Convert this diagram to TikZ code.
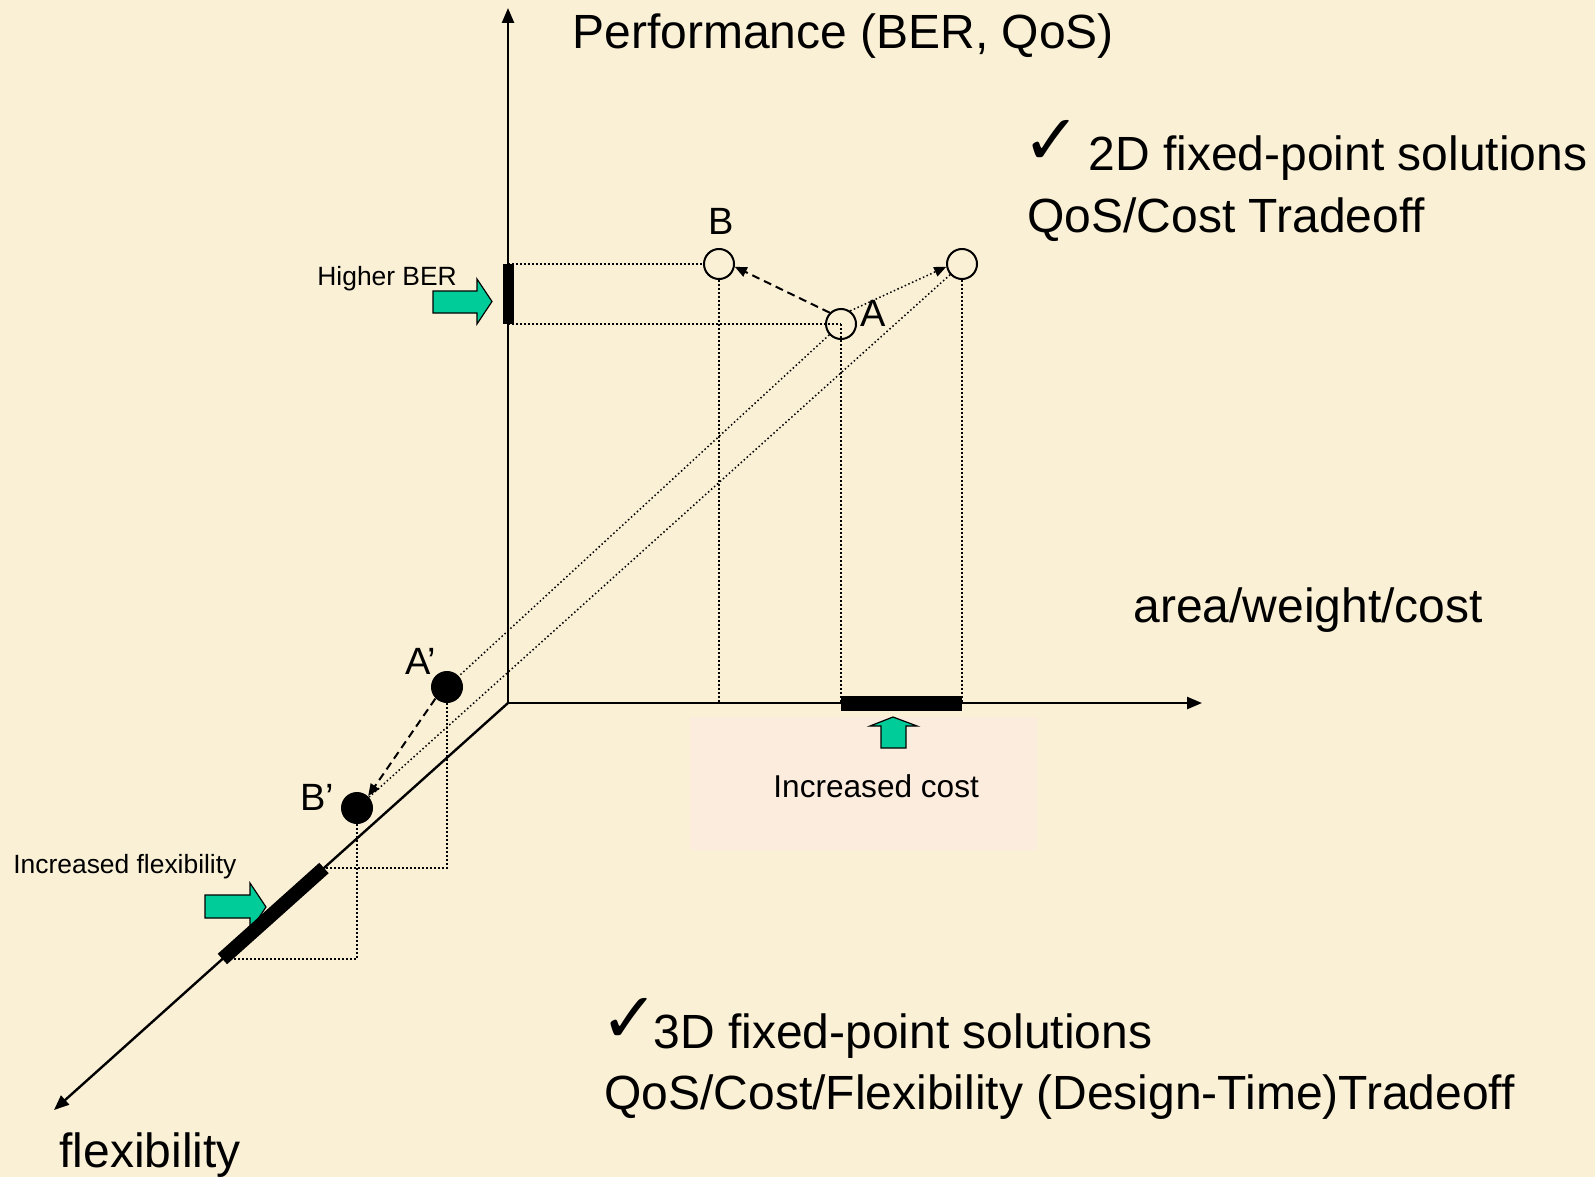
\documentclass[tikz,border=0pt]{standalone}
\usepackage{fontspec}
\setmainfont{Liberation Sans}
\newfontfamily\checkfont{DejaVu Sans}
\usetikzlibrary{arrows.meta}
\definecolor{parchment}{RGB}{250,240,213}
\definecolor{boxtint}{RGB}{252,236,221}
\definecolor{markgreen}{RGB}{0,204,153}

\begin{document}
\begin{tikzpicture}[x=0.5pt,y=-0.5pt,
  axisline/.style={line width=1.2pt,-{Triangle[length=7.5pt,width=6pt]}},
  guide/.style={line width=0.75pt,dash pattern=on 0.75pt off 1.25pt},
  move/.style={line width=1pt,dash pattern=on 4pt off 2.5pt,-{Triangle[length=6pt,width=5pt]}},
  shiftarrow/.style={guide,-{Triangle[length=6pt,width=5pt]}},
  open dot/.style={circle,draw,line width=1pt,minimum size=15pt,inner sep=0pt},
  solid dot/.style={circle,fill=black,minimum size=16pt,inner sep=0pt},
  greenarrow/.style={fill=markgreen,draw=black,line width=0.6pt,line join=miter},
  big/.style={font=\fontsize{24}{28}\selectfont,inner sep=0pt,anchor=base west},
  pointlabel/.style={font=\fontsize{19}{22}\selectfont,inner sep=0pt,anchor=base west},
  small/.style={font=\fontsize{13.2}{16}\selectfont,inner sep=0pt,anchor=base west},
  tick/.style={font=\checkfont\fontsize{35}{40}\selectfont,inner sep=0pt}]

% page background
\fill[parchment] (0,0) rectangle (1595,1177);
\useasboundingbox (0,0) rectangle (1595,1177);

% tinted panel behind the cost annotation
\fill[boxtint] (690,717) rectangle (1037,850);

% axes origin and ends
\coordinate (O) at (508,703);
\coordinate (ytip) at (508,8);
\coordinate (xtip) at (1202,703);
\coordinate (ztip) at (54,1110);
\coordinate (barTop) at (508,264);
\coordinate (barBot) at (508,324);
\coordinate (flexTop) at (324,868);
\coordinate (flexBot) at (222.4,959);

% design points
\node[open dot] (B) at (719,264) {};
\node[open dot] (C) at (962,264) {};
\node[open dot] (A) at (841,324) {};
\node[solid dot] (Ap) at (447,687) {};
\node[solid dot] (Bp) at (357,808) {};

% projection guides
\draw[guide] (barTop) -- (B.west);
\draw[guide] (barBot) -- (A.center);
\draw[guide] (B.south) -- (B.south |- O);
\draw[guide] (A.center) -- (A.center |- O);
\draw[guide] (C.south) -- (C.south |- O);
\draw[guide] (A) -- (Ap);
\draw[guide] (C) -- (Bp);
\draw[guide] (Ap.south) -- (Ap.south |- flexTop) -- (flexTop);
\draw[guide] (Bp.south) -- (Bp.south |- flexBot) -- (flexBot);

% axes
\draw[axisline] (O) -- (ytip);
\draw[axisline] (O) -- (xtip);
\draw[axisline] (O) -- (ztip);

% green pointer arrows
\filldraw[greenarrow] (433,291) -- (477,291) -- (477,279) -- (492,301.5)
  -- (477,324) -- (477,313) -- (433,313) -- cycle;
\filldraw[greenarrow] (205,895) -- (250,895) -- (250,883) -- (266,907)
  -- (250,931) -- (250,918) -- (205,918) -- cycle;
\filldraw[greenarrow] (881,748) -- (881,726) -- (870,726) -- (893,717)
  -- (917,726) -- (906,726) -- (906,748) -- cycle;

% ranges marked on the axes
\draw[line width=5.5pt] (barTop) -- (barBot);
\draw[line width=7.5pt] (A.center |- O) -- (C.center |- O);
\draw[line width=7pt] (flexTop) -- (flexBot);

% moves between solutions
\draw[move] (A.135) -- (B.-10);
\draw[shiftarrow] (A.55) -- (C.190);
\draw[move] (Ap.225) -- (Bp.47);

% point labels
\node[pointlabel] (labB) at (708,234) {B};
\node[pointlabel] (labA) at (860,326) {A};
\node[pointlabel] (labAp) at (405,674) {A’};
\node[pointlabel] (labBp) at (300,810) {B’};

% annotations
\node[small] (higher) at (317,285) {Higher BER};
\node[small] (incflex) at (13,873) {Increased flexibility};
\node[font=\fontsize{15.8}{19}\selectfont,inner sep=0pt,anchor=base west] (inccost) at (773,797) {Increased cost};

% axis titles
\node[big] (perf) at (572,49) {Performance (BER, QoS)};
\node[big] (area) at (1133,622) {area/weight/cost};
\node[big] (flex) at (59,1167) {flexibility};

% summary notes
\node[tick] (tick1) at (1052,142) {✓};
\node[big] (twoD) at (1088,170) {2D fixed-point solutions};
\node[big] (qosCost) at (1027,232) {QoS/Cost Tradeoff};
\node[tick] (tick2) at (630,1020) {✓};
\node[big] (threeD) at (653,1048) {3D fixed-point solutions};
\node[big] (qosFlex) at (604,1109) {QoS/Cost/Flexibility (Design-Time)Tradeoff};
\end{tikzpicture}
\end{document}
